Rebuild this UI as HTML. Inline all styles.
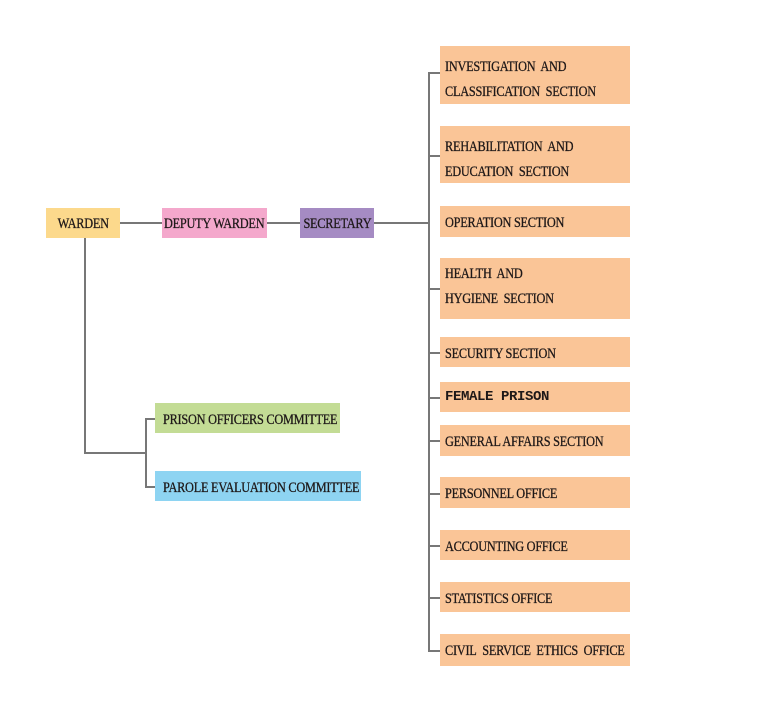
<!DOCTYPE html>
<html><head><style>
body{margin:0;width:778px;height:718px;background:#fff;position:relative;overflow:hidden;font-family:"Liberation Serif",serif;}
.b{position:absolute;box-sizing:border-box;color:#1e1818;font-size:15px;line-height:25px;}
.b span{display:inline-block;transform:scaleX(0.82);transform-origin:left center;white-space:nowrap;letter-spacing:-0.3px;-webkit-text-stroke:0.3px #1e1818}
.o{background:#fac597;left:440px;width:190px;padding-left:5px;}
.s{padding-top:2px}
.l{position:absolute;background:#777;}
.c{display:flex;justify-content:center;align-items:center;padding-top:2px}
.c span{transform-origin:center center}
</style></head><body>
<!-- lines -->
<div class="l" style="left:120px;top:222px;width:42px;height:1.5px"></div>
<div class="l" style="left:267px;top:222px;width:33px;height:1.5px"></div>
<div class="l" style="left:374px;top:222px;width:54px;height:1.5px"></div>
<div class="l" style="left:428px;top:72px;width:1.5px;height:579px"></div>
<div class="l" style="left:84px;top:238px;width:1.5px;height:215px"></div>
<div class="l" style="left:84px;top:452px;width:61px;height:1.5px"></div>
<div class="l" style="left:145px;top:418px;width:1.5px;height:68px"></div>
<div class="l" style="left:145px;top:418px;width:10px;height:1.5px"></div>
<div class="l" style="left:145px;top:486px;width:10px;height:1.5px"></div>
<div class="l" style="left:428px;top:72px;width:12px;height:1.5px"></div>
<div class="l" style="left:428px;top:155px;width:12px;height:1.5px"></div>
<div class="l" style="left:428px;top:288px;width:12px;height:1.5px"></div>
<div class="l" style="left:428px;top:352px;width:12px;height:1.5px"></div>
<div class="l" style="left:428px;top:397px;width:12px;height:1.5px"></div>
<div class="l" style="left:428px;top:440px;width:12px;height:1.5px"></div>
<div class="l" style="left:428px;top:493px;width:12px;height:1.5px"></div>
<div class="l" style="left:428px;top:545px;width:12px;height:1.5px"></div>
<div class="l" style="left:428px;top:597px;width:12px;height:1.5px"></div>
<div class="l" style="left:428px;top:650px;width:12px;height:1.5px"></div>
<!-- left boxes -->
<div class="b c" style="left:46px;top:208px;width:74px;height:30px;background:#fcd98c"><span>WARDEN</span></div>
<div class="b c" style="left:162px;top:208px;width:105px;height:30px;background:#f4a8cc"><span>DEPUTY WARDEN</span></div>
<div class="b c" style="left:300px;top:208px;width:74px;height:30px;background:#a58bc3"><span>SECRETARY</span></div>
<div class="b s" style="left:155px;top:403px;width:185px;height:30px;line-height:30px;background:#c3dc95;padding-left:8px"><span>PRISON OFFICERS COMMITTEE</span></div>
<div class="b s" style="left:155px;top:471px;width:206px;height:30px;line-height:30px;background:#8ed4f2;padding-left:8px"><span>PAROLE EVALUATION COMMITTEE</span></div>
<!-- right boxes -->
<div class="b o" style="top:46px;height:58px;padding-top:9px"><span>INVESTIGATION&nbsp; AND</span><br><span>CLASSIFICATION&nbsp; SECTION</span></div>
<div class="b o" style="top:126px;height:57px;padding-top:9px"><span>REHABILITATION&nbsp; AND</span><br><span>EDUCATION&nbsp; SECTION</span></div>
<div class="b o s" style="top:206px;height:31px;line-height:31px"><span>OPERATION SECTION</span></div>
<div class="b o" style="top:258px;height:61px;padding-top:4px"><span>HEALTH&nbsp; AND</span><br><span>HYGIENE&nbsp; SECTION</span></div>
<div class="b o s" style="top:337px;height:30px;line-height:30px"><span>SECURITY SECTION</span></div>
<div class="b o" style="top:382px;height:30px;line-height:31px;font-family:'Liberation Mono',monospace;font-size:14px;font-weight:bold"><span style="transform:none;letter-spacing:-0.4px;-webkit-text-stroke:0">FEMALE PRISON</span></div>
<div class="b o s" style="top:425px;height:31px;line-height:31px"><span>GENERAL AFFAIRS SECTION</span></div>
<div class="b o s" style="top:477px;height:31px;line-height:31px"><span>PERSONNEL OFFICE</span></div>
<div class="b o s" style="top:530px;height:30px;line-height:30px"><span>ACCOUNTING OFFICE</span></div>
<div class="b o s" style="top:582px;height:30px;line-height:30px"><span>STATISTICS OFFICE</span></div>
<div class="b o s" style="top:634px;height:32px;line-height:30px"><span>CIVIL&nbsp; SERVICE&nbsp; ETHICS&nbsp; OFFICE</span></div>
</body></html>
